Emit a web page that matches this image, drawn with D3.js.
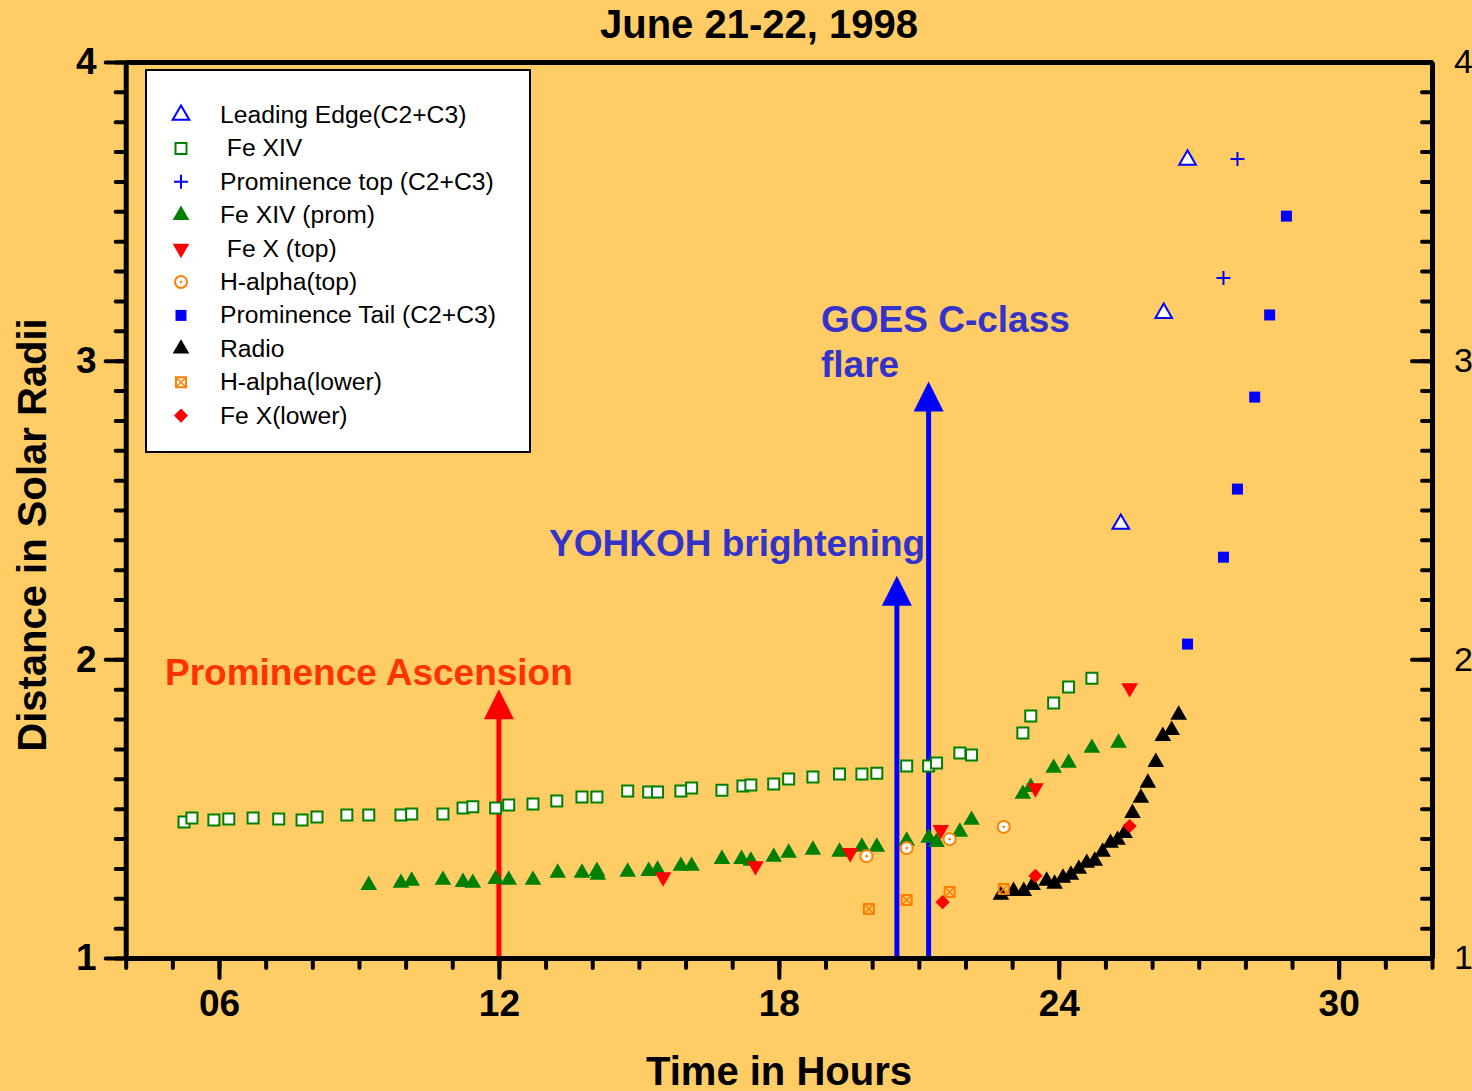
<!DOCTYPE html>
<html>
<head>
<meta charset="utf-8">
<script src="https://cdn.jsdelivr.net/npm/d3@7/dist/d3.min.js"></script>
<style>
  body { margin: 0; background: #ffcc66; }
  text { font-family: "Liberation Sans", Arial, sans-serif; }
</style>
</head>
<body>
<script>
// values: [hour, distance in solar radii]
var leadingEdge = [[25.33, 2.453], [26.25, 3.159], [26.76, 3.672]];
var feXIV = [[5.25, 1.455], [5.42, 1.469], [5.89, 1.462], [6.21, 1.465], [6.73, 1.469], [7.28, 1.465],
    [7.78, 1.462], [8.10, 1.472], [8.74, 1.479], [9.21, 1.479], [9.90, 1.479], [10.13, 1.482],
    [10.80, 1.482], [11.23, 1.502], [11.44, 1.506], [11.93, 1.502], [12.21, 1.512], [12.73, 1.516],
    [13.24, 1.526], [13.78, 1.539], [14.10, 1.539], [14.76, 1.559], [15.21, 1.556], [15.40, 1.556],
    [15.90, 1.559], [16.13, 1.569], [16.78, 1.562], [17.23, 1.576], [17.40, 1.579], [17.89, 1.583],
    [18.21, 1.599], [18.73, 1.606], [19.30, 1.616], [19.78, 1.616], [20.10, 1.619], [20.74, 1.643],
    [21.21, 1.643], [21.38, 1.653], [21.88, 1.686], [22.13, 1.680], [23.23, 1.753], [23.40, 1.810],
    [23.89, 1.854], [24.21, 1.907], [24.71, 1.937]];
var promTop = [[27.53, 3.277], [27.83, 3.675]];
var feXIVprom = [[9.21, 1.244], [9.90, 1.251], [10.13, 1.258], [10.80, 1.261], [11.23, 1.254],
    [11.44, 1.251], [11.93, 1.264], [12.21, 1.261], [12.73, 1.261], [13.26, 1.285], [13.78, 1.285],
    [14.10, 1.291], [14.12, 1.278], [14.76, 1.288], [15.21, 1.291], [15.40, 1.295], [15.90, 1.308],
    [16.13, 1.308], [16.78, 1.331], [17.20, 1.331], [17.40, 1.325], [17.89, 1.338], [18.21, 1.352],
    [18.73, 1.362], [19.30, 1.355], [19.78, 1.372], [20.10, 1.372], [20.74, 1.392], [21.21, 1.402],
    [21.38, 1.388], [21.88, 1.422], [22.13, 1.462], [23.23, 1.549], [23.40, 1.572], [23.89, 1.636],
    [24.21, 1.653], [24.71, 1.703], [25.28, 1.720]];
var feXtop = [[15.52, 1.271], [17.50, 1.308], [19.53, 1.352], [21.47, 1.429], [23.50, 1.569], [25.52, 1.904]];
var hAlphaTop = [[19.88, 1.341], [20.74, 1.368], [21.66, 1.398], [22.82, 1.439]];
var promTail = [[26.76, 2.051], [27.53, 2.342], [27.83, 2.570], [28.20, 2.878], [28.52, 3.153], [28.88, 3.484]];
var radio = [[22.76, 1.211], [23.03, 1.224], [23.25, 1.224], [23.44, 1.244], [23.74, 1.258], [23.91, 1.248],
    [24.09, 1.268], [24.26, 1.278], [24.43, 1.298], [24.60, 1.318], [24.77, 1.325], [24.94, 1.355],
    [25.11, 1.385], [25.26, 1.395], [25.41, 1.418], [25.58, 1.485], [25.76, 1.536], [25.91, 1.586],
    [26.08, 1.656], [26.23, 1.743], [26.42, 1.763], [26.57, 1.814]];
var hAlphaLower = [[19.93, 1.164], [20.74, 1.194], [21.66, 1.221], [22.82, 1.231]];
var feXlower = [[21.51, 1.187], [23.50, 1.275], [25.52, 1.442]];

// events: [hour, arrow tip]
var events = [
    {t: 12.0, tip: 1.90, color: "#ff0000"},
    {t: 20.53, tip: 2.28, color: "#0000ff"},
    {t: 21.21, tip: 2.93, color: "#0000ff"}
];

var xMajor = [6, 12, 18, 24, 30];
var yMajor = [1, 2, 3, 4];

function main() {
    var w = 1472, h = 1091;
    var left = 125.7, right = 1432, top = 62, bottom = 958;

    var svg = d3.select("body").append("svg")
        .attr("width", w)
        .attr("height", h);
    svg.append("rect").attr("width", w).attr("height", h).attr("fill", "#ffcc66");

    var x = d3.scaleLinear().domain([4, 32]).range([left, right]);
    var y = d3.scaleLinear().domain([1, 4]).range([bottom, top]);

    // arrows go under the markers
    events.forEach(function(e) {
        var xp = x(e.t), tipY = y(e.tip);
        svg.append("line")
            .attr("x1", xp).attr("x2", xp)
            .attr("y1", y(1)).attr("y2", tipY + 26)
            .attr("stroke", e.color).attr("stroke-width", 5);
        svg.append("path")
            .attr("d", "M" + xp + "," + tipY + "L" + (xp + 15) + "," + (tipY + 30) + "L" + (xp - 15) + "," + (tipY + 30) + "Z")
            .attr("fill", e.color);
    });

    // axes
    function styleAxis(g, tickW) {
        g.select(".domain").attr("stroke", "#000").attr("stroke-width", 5);
        g.selectAll(".tick line").attr("stroke", "#000").attr("stroke-width", tickW).attr("stroke-linecap", "round");
    }

    var xMinor = d3.range(4, 33);
    svg.append("g").attr("transform", "translate(0," + bottom + ")")
        .call(d3.axisBottom(x).tickValues(xMinor).tickSizeInner(10).tickSizeOuter(0).tickFormat(""))
        .call(styleAxis, 4);
    var gx = svg.append("g").attr("transform", "translate(0," + bottom + ")")
        .call(d3.axisBottom(x).tickValues(xMajor).tickSizeInner(20).tickSizeOuter(0).tickPadding(12)
            .tickFormat(d3.format("02d")))
        .call(styleAxis, 4);
    gx.select(".domain").remove();
    gx.selectAll("text").attr("font-size", 37).attr("font-weight", "bold").attr("fill", "#000")
        .attr("font-family", "'Liberation Sans', Arial, sans-serif");

    var yMinor = d3.range(10, 41).map(function(d) { return d / 10; });
    svg.append("g").attr("transform", "translate(" + left + ",0)")
        .call(d3.axisLeft(y).tickValues(yMinor).tickSizeInner(10).tickSizeOuter(0).tickFormat(""))
        .call(styleAxis, 4);
    var gy = svg.append("g").attr("transform", "translate(" + left + ",0)")
        .call(d3.axisLeft(y).tickValues(yMajor).tickSizeInner(20).tickSizeOuter(0).tickPadding(9)
            .tickFormat(d3.format("d")))
        .call(styleAxis, 4);
    gy.select(".domain").remove();
    gy.selectAll("text").attr("font-size", 37).attr("font-weight", "bold").attr("fill", "#000")
        .attr("font-family", "'Liberation Sans', Arial, sans-serif");

    svg.append("g").attr("transform", "translate(" + right + ",0)")
        .call(d3.axisRight(y).tickValues(yMinor).tickSizeInner(-10).tickSizeOuter(0).tickFormat(""))
        .call(styleAxis, 4);
    var gy2 = svg.append("g").attr("transform", "translate(" + right + ",0)")
        .call(d3.axisRight(y).tickValues(yMajor).tickSizeInner(-20).tickSizeOuter(0).tickPadding(22)
            .tickFormat(d3.format("d")))
        .call(styleAxis, 4);
    gy2.select(".domain").remove();
    gy2.selectAll("text").attr("font-size", 34).attr("fill", "#000")
        .attr("font-family", "'Liberation Sans', Arial, sans-serif");

    svg.append("g").attr("transform", "translate(0," + top + ")")
        .call(d3.axisTop(x).tickValues([]).tickSizeOuter(0))
        .call(styleAxis, 4);

    // marker shapes
    var sq = d3.symbol().type(d3.symbolSquare).size(121)();
    var tri = d3.symbol().type(d3.symbolTriangle).size(120)();
    var smallSq = d3.symbol().type(d3.symbolSquare).size(100)();
    var shapes = {
        openTri: function(g) {
            g.append("path").attr("d", tri).attr("fill", "#fff").attr("stroke", "#0000ff").attr("stroke-width", 2);
        },
        openSq: function(g) {
            g.append("path").attr("d", sq).attr("fill", "#fff").attr("stroke", "#008000").attr("stroke-width", 2);
        },
        plus: function(g) {
            g.append("path").attr("d", "M-7,0H7M0,-7V7").attr("stroke", "#0000ff").attr("stroke-width", 2);
        },
        greenTri: function(g) {
            g.append("path").attr("d", tri).attr("fill", "#008000");
        },
        redDown: function(g) {
            g.append("path").attr("d", tri).attr("fill", "#ff0000").attr("transform", "rotate(180)");
        },
        dotCircle: function(g) {
            g.append("circle").attr("r", 6).attr("fill", "#fff").attr("stroke", "#ff8000").attr("stroke-width", 2);
            g.append("circle").attr("r", 1.3).attr("fill", "#ff8000");
        },
        blueSq: function(g) {
            g.append("path").attr("d", sq).attr("fill", "#0000ff");
        },
        blackTri: function(g) {
            g.append("path").attr("d", tri).attr("fill", "#000");
        },
        xSq: function(g) {
            g.append("path").attr("d", smallSq).attr("fill", "none").attr("stroke", "#ff8000").attr("stroke-width", 2);
            g.append("path").attr("d", "M-5,-5L5,5M5,-5L-5,5").attr("stroke", "#ff8000").attr("stroke-width", 1.5);
        },
        diamond: function(g) {
            g.append("path").attr("d", smallSq).attr("fill", "#ff0000").attr("transform", "rotate(45)");
        }
    };

    var series = [
        {name: "Leading Edge(C2+C3)", data: leadingEdge, shape: "openTri"},
        {name: " Fe XIV", data: feXIV, shape: "openSq"},
        {name: "Prominence top (C2+C3)", data: promTop, shape: "plus"},
        {name: "Fe XIV (prom)", data: feXIVprom, shape: "greenTri"},
        {name: " Fe X (top)", data: feXtop, shape: "redDown"},
        {name: "H-alpha(top)", data: hAlphaTop, shape: "dotCircle"},
        {name: "Prominence Tail (C2+C3)", data: promTail, shape: "blueSq"},
        {name: "Radio", data: radio, shape: "blackTri"},
        {name: "H-alpha(lower)", data: hAlphaLower, shape: "xSq"},
        {name: "Fe X(lower)", data: feXlower, shape: "diamond"}
    ];

    series.forEach(function(s) {
        svg.append("g").selectAll("g")
            .data(s.data)
            .enter()
            .append("g")
            .attr("transform", function(d) { return "translate(" + x(d[0]) + "," + y(d[1]) + ")"; })
            .each(function() { shapes[s.shape](d3.select(this)); });
    });

    // legend
    var lg = svg.append("g");
    lg.append("rect").attr("x", 146).attr("y", 70).attr("width", 384).attr("height", 382)
        .attr("fill", "#fff").attr("stroke", "#000").attr("stroke-width", 2);
    series.forEach(function(s, i) {
        var yy = 115 + i * 33.4;
        var g = lg.append("g").attr("transform", "translate(181," + yy + ")");
        shapes[s.shape](g);
        lg.append("text")
            .attr("x", 220).attr("y", yy + 8)
            .attr("font-size", 24.7)
            .attr("fill", "#000")
            .attr("xml:space", "preserve")
            .style("white-space", "pre")
            .text(s.name);
    });

    // annotations
    function label(txt, xx, yy, color, size) {
        svg.append("text").attr("x", xx).attr("y", yy)
            .attr("font-size", size).attr("font-weight", "bold").attr("fill", color).text(txt);
    }
    label("Prominence Ascension", 165, 685, "#ff3300", 37);
    label("YOHKOH brightening", 549, 556, "#3333cc", 37);
    label("GOES C-class", 821, 332, "#3333cc", 37);
    label("flare", 821, 377, "#3333cc", 37);

    svg.append("text").attr("x", 759).attr("y", 38).attr("text-anchor", "middle")
        .attr("font-size", 40).attr("font-weight", "bold").text("June 21-22, 1998");
    svg.append("text").attr("x", 779).attr("y", 1085).attr("text-anchor", "middle")
        .attr("font-size", 40).attr("font-weight", "bold").text("Time in Hours");
    svg.append("text").attr("transform", "translate(46,535) rotate(-90)").attr("text-anchor", "middle")
        .attr("font-size", 40).attr("font-weight", "bold").text("Distance in Solar Radii");
}

main();
</script>
</body>
</html>
